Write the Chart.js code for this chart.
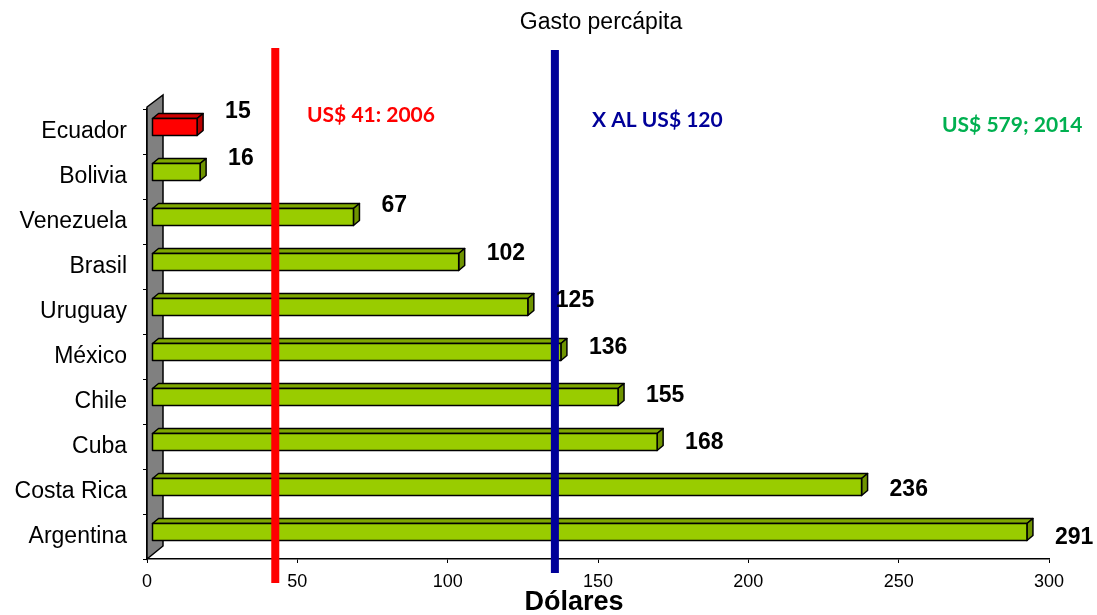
<!DOCTYPE html>
<html>
<head>
<meta charset="utf-8">
<title>Gasto percápita</title>
<script src="https://cdn.jsdelivr.net/npm/chart.js@4.4.1/dist/chart.umd.min.js"></script>
<style>
  html, body { margin: 0; padding: 0; background: #ffffff; }
  #wrap { width: 1097px; height: 615px; }
</style>
</head>
<body>
<div id="wrap"><canvas id="chart" width="1097" height="615"></canvas></div>
<script>
// Health spending per capita (US$), top to bottom
const countries = ['Ecuador', 'Bolivia', 'Venezuela', 'Brasil', 'Uruguay', 'México', 'Chile', 'Cuba', 'Costa Rica', 'Argentina'];
const spending = [15, 16, 67, 102, 125, 136, 155, 168, 236, 291];
const xTicks = [0, 50, 100, 150, 200, 250, 300];

// Reference lines with their captions
const refValues = [41, 134];
const refColors = ['#ff0000', '#000099'];
const notes = ['US$ 41: 2006', 'X AL US$ 120', 'US$ 579; 2014'];
const noteColors = ['#ff0000', '#000099', '#00b050'];

const chartTitle = 'Gasto percápita';
const axisTitle = 'Dólares';

const SANS = '"Liberation Sans", Arial, sans-serif';
const DEPTH_X = 6, DEPTH_Y = -5;   // bar depth in the 3D projection
const SHIFT = 5;                   // bars sit a little behind the axis plane

function shade(i) {
  return i === 0
    ? { front: '#ff0000', top: '#d00000', side: '#b80000' }
    : { front: '#99cc00', top: '#7fa800', side: '#6f9400' };
}

const wallAndBars = {
  id: 'wallAndBars',
  beforeDatasetsDraw(chart) {
    const { ctx, chartArea: a } = chart;
    // grey back wall beside the category axis
    ctx.save();
    ctx.beginPath();
    ctx.moveTo(a.left, a.top - 2);
    ctx.lineTo(a.left + 16, a.top - 14);
    ctx.lineTo(a.left + 16, a.bottom - 13);
    ctx.lineTo(a.left, a.bottom);
    ctx.closePath();
    ctx.fillStyle = '#808080';
    ctx.fill();
    ctx.strokeStyle = '#000';
    ctx.lineWidth = 1.5;
    ctx.stroke();
    ctx.restore();
  },
  afterDatasetsDraw(chart) {
    const { ctx } = chart;
    const meta = chart.getDatasetMeta(0);
    ctx.save();
    ctx.lineWidth = 1.5;
    ctx.strokeStyle = '#000';
    ctx.lineJoin = 'round';
    meta.data.forEach((el, i) => {
      const c = shade(i);
      const l = el.base + SHIFT, r = el.x + SHIFT;
      const t = el.y - 13, b = el.y + 4;
      // top face
      ctx.beginPath();
      ctx.moveTo(l, t);
      ctx.lineTo(l + DEPTH_X, t + DEPTH_Y);
      ctx.lineTo(r + DEPTH_X, t + DEPTH_Y);
      ctx.lineTo(r, t);
      ctx.closePath();
      ctx.fillStyle = c.top; ctx.fill(); ctx.stroke();
      // end face
      ctx.beginPath();
      ctx.moveTo(r, t);
      ctx.lineTo(r + DEPTH_X, t + DEPTH_Y);
      ctx.lineTo(r + DEPTH_X, b + DEPTH_Y);
      ctx.lineTo(r, b);
      ctx.closePath();
      ctx.fillStyle = c.side; ctx.fill(); ctx.stroke();
      // front face
      ctx.beginPath();
      ctx.rect(l, t, r - l, b - t);
      ctx.fillStyle = c.front; ctx.fill(); ctx.stroke();
    });
    ctx.restore();
  }
};

const overlays = {
  id: 'overlays',
  afterDraw(chart) {
    const { ctx } = chart;
    const xs = chart.scales.x;
    ctx.save();

    // reference lines
    const spans = [[48, 583], [50, 573]];
    refValues.forEach((v, i) => {
      const px = xs.getPixelForValue(v) + SHIFT;
      ctx.fillStyle = refColors[i];
      ctx.fillRect(px - 4, spans[i][0], 8, spans[i][1] - spans[i][0]);
    });

    // value labels
    const meta = chart.getDatasetMeta(0);
    ctx.fillStyle = '#000';
    ctx.font = 'bold 23px ' + SANS;
    ctx.textAlign = 'left';
    ctx.textBaseline = 'middle';
    meta.data.forEach((el, i) => {
      ctx.fillText(String(spending[i]), el.x + SHIFT + 28, el.y - 20 + i * 2.3);
    });

    // captions near the reference lines
    ctx.font = 'bold 21px Lato, "Open Sans", sans-serif';
    const notePos = [[307, 115], [592, 120], [942, 125]];
    notes.forEach((n, i) => {
      ctx.fillStyle = noteColors[i];
      ctx.fillText(n, notePos[i][0], notePos[i][1]);
    });

    // chart title and axis title
    ctx.fillStyle = '#000';
    ctx.textAlign = 'center';
    ctx.font = '23px ' + SANS;
    ctx.fillText(chartTitle, 601, 23);
    ctx.font = 'bold 27px ' + SANS;
    ctx.fillText(axisTitle, 574, 603);
    ctx.restore();
  }
};

new Chart(document.getElementById('chart'), {
  type: 'bar',
  data: {
    labels: countries,
    datasets: [{
      data: spending,
      backgroundColor: 'rgba(0,0,0,0)',
      borderWidth: 0,
      barThickness: 17
    }]
  },
  options: {
    indexAxis: 'y',
    responsive: false,
    animation: false,
    devicePixelRatio: 1,
    layout: { padding: { left: 0, right: 48, top: 109, bottom: 26 } },
    plugins: { legend: { display: false }, tooltip: { enabled: false }, title: { display: false } },
    scales: {
      x: {
        min: 0, max: 300,
        afterFit(s) { s.height = 30; },
        afterBuildTicks(s) { s.ticks = xTicks.map(v => ({ value: v })); },
        grid: { display: true, drawOnChartArea: false, drawTicks: true, tickLength: 4, color: '#000', lineWidth: 1 },
        border: { display: true, color: '#000', width: 1.5 },
        ticks: { color: '#000', font: { family: SANS, size: 18 }, padding: 8, maxRotation: 0 }
      },
      y: {
        afterFit(s) { s.width = 147; },
        grid: { display: true, drawOnChartArea: false, drawTicks: true, tickLength: 4, color: '#000', lineWidth: 1, offset: true },
        border: { display: true, color: '#000', width: 1.5 },
        ticks: { color: '#000', font: { family: SANS, size: 23 }, padding: 16 }
      }
    }
  },
  plugins: [wallAndBars, overlays]
});
</script>
</body>
</html>
